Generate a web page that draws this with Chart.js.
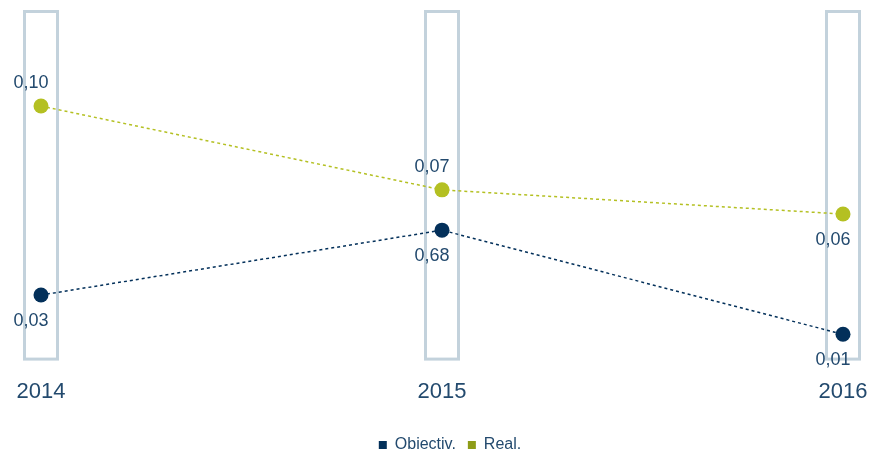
<!DOCTYPE html>
<html>
<head>
<meta charset="utf-8">
<script src="https://cdn.jsdelivr.net/npm/chart.js@4/dist/chart.umd.min.js"></script>
<style>
  html, body { margin: 0; padding: 0; background: #fff; }
  #wrap { width: 877px; height: 456px; }
</style>
</head>
<body>
<div id="wrap"><canvas id="c" width="877" height="456"></canvas></div>
<script>
// ── Data (vertical position, printed labels as shown) ──
const years = ['2014', '2015', '2016'];
const objectivValues = [18.7, 37.2, 7.5];
const realValues = [72.6, 48.7, 41.8];
const objectivLabels = ['0,03', '0,68', '0,01'];
const realLabels = ['0,10', '0,07', '0,06'];

const NAVY = '#03305a';
const LIME = '#b4c022';
const LIME_LEGEND = '#8e9c18';
const TEXT = '#234a6e';
const BOX = '#c3d2dc';
const FONT = "'Liberation Sans', Arial, sans-serif";

// Light outlined columns behind each year
const yearBoxes = {
    id: 'yearBoxes',
    beforeDatasetsDraw(chart) {
        const { ctx, chartArea, scales } = chart;
        ctx.save();
        ctx.strokeStyle = BOX;
        ctx.lineWidth = 3;
        scales.x.ticks.forEach((t, i) => {
            const x = scales.x.getPixelForTick(i);
            ctx.strokeRect(x - 16.5, chartArea.top + 1.5, 33, chartArea.bottom - chartArea.top - 3);
        });
        ctx.restore();
    }
};

// Value labels next to the points
const valueLabels = {
    id: 'valueLabels',
    afterDatasetsDraw(chart) {
        const { ctx } = chart;
        ctx.save();
        ctx.font = '18px ' + FONT;
        ctx.fillStyle = TEXT;
        ctx.textAlign = 'center';
        ctx.textBaseline = 'middle';
        chart.data.datasets.forEach((ds, di) => {
            const meta = chart.getDatasetMeta(di);
            meta.data.forEach((pt, i) => {
                const above = ds.labelPos[i] === 'top';
                ctx.fillText(ds.labels[i], pt.x - 10, pt.y + (above ? -23 : 26));
            });
        });
        ctx.restore();
    }
};

// legend in the original sits a bit right of the plot centre
const legendNudge = {
    id: 'legendNudge',
    afterLayout(chart) {
        chart.legend.left += 8;
        chart.legend.right += 8;
    }
};

new Chart(document.getElementById('c'), {
    type: 'line',
    data: {
        labels: years,
        datasets: [
            {
                label: 'Obiectiv.',
                data: objectivValues,
                labels: objectivLabels,
                labelPos: ['bottom', 'bottom', 'bottom'],
                borderColor: NAVY,
                backgroundColor: NAVY,
                borderWidth: 1.5,
                borderDash: [3, 3],
                pointRadius: 7.5,
                pointHoverRadius: 7.5,
                pointBackgroundColor: NAVY,
                pointBorderWidth: 0,
                clip: false,
            },
            {
                label: 'Real.',
                data: realValues,
                labels: realLabels,
                labelPos: ['top', 'top', 'bottom'],
                borderColor: LIME,
                backgroundColor: LIME_LEGEND,
                borderWidth: 1.5,
                borderDash: [3, 3],
                pointRadius: 7.5,
                pointHoverRadius: 7.5,
                pointBackgroundColor: LIME,
                pointBorderWidth: 0,
                clip: false,
            }
        ]
    },
    options: {
        responsive: false,
        animation: false,
        layout: { padding: { top: 10, left: 41, right: 34, bottom: -7 } },
        scales: {
            x: {
                offset: false,
                grid: { display: false },
                border: { display: false },
                ticks: {
                    padding: 10,
                    color: TEXT,
                    font: { family: FONT, size: 22 },
                    maxRotation: 0,
                },
                afterFit(scale) {
                    // let layout padding alone decide the plot edges
                    scale.paddingLeft = 0;
                    scale.paddingRight = 0;
                    scale.height += 10;
                }
            },
            y: { display: false, min: 0, max: 100 }
        },
        plugins: {
            tooltip: { enabled: false },
            legend: {
                position: 'bottom',
                labels: {
                    boxWidth: 8,
                    boxHeight: 8,
                    padding: 12,
                    color: TEXT,
                    font: { family: FONT, size: 16 },
                    generateLabels(chart) {
                        return chart.data.datasets.map((ds, i) => ({
                            text: ds.label,
                            fillStyle: i === 0 ? NAVY : LIME_LEGEND,
                            strokeStyle: 'transparent',
                            lineWidth: 0,
                            fontColor: TEXT,
                            datasetIndex: i,
                        }));
                    }
                }
            }
        }
    },
    plugins: [yearBoxes, valueLabels, legendNudge]
});
</script>
</body>
</html>
